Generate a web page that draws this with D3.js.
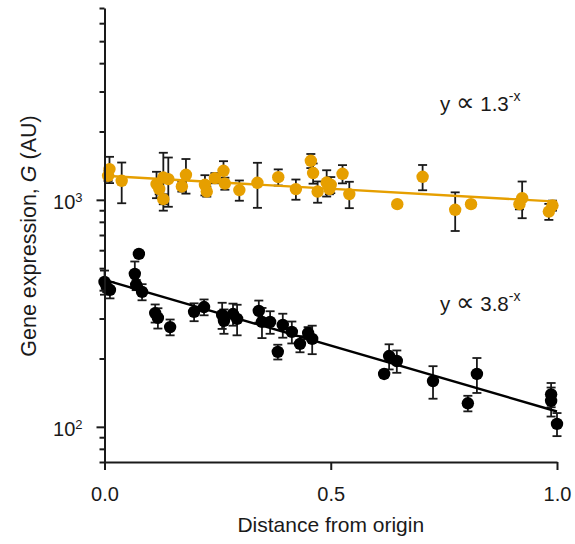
<!DOCTYPE html>
<html>
<head>
<meta charset="utf-8">
<script src="https://cdn.jsdelivr.net/npm/d3@7"></script>
<style>
  body { margin: 0; background: #fff; }
  svg text { font-family: "Liberation Sans", Arial, sans-serif; fill: #1a1a1a; }
</style>
</head>
<body>
<svg id="chart" width="575" height="544"></svg>
<script>
// black series (steep decay)
var blackX = [0.000, 0.005, 0.012, 0.076, 0.067, 0.070, 0.083, 0.112, 0.118, 0.145, 0.198, 0.220,
  0.260, 0.264, 0.284, 0.293, 0.341, 0.348, 0.366, 0.383, 0.394, 0.414, 0.432, 0.450, 0.459,
  0.618, 0.629, 0.646, 0.726, 0.803, 0.823, 0.987, 0.987, 1.000];
var blackY = [435, 413, 401, 578, 472, 422, 393, 317, 302, 275, 321, 337,
  311, 293, 314, 299, 324, 290, 290, 214, 281, 262, 232, 259, 244,
  171, 205, 195, 159, 127, 171, 139, 130, 103];
var blackErr = [53, 21, 33, 18, 63, 22, 32, 29, 31, 22, 29, 27,
  41, 36, 35, 46, 36, 44, 33, 16, 34, 29, 19, 16, 35,
  5, 26, 22, 26, 10, 30, 17, 19, 12];

// orange series (shallow decay)
var orangeX = [0.011, 0.008, 0.038, 0.115, 0.121, 0.130, 0.130, 0.141, 0.171, 0.180, 0.222, 0.226,
  0.244, 0.263, 0.266, 0.298, 0.338, 0.384, 0.423, 0.456, 0.461, 0.471, 0.491, 0.497, 0.500,
  0.526, 0.541, 0.647, 0.703, 0.775, 0.810, 0.917, 0.923, 0.982, 0.990];
var orangeY = [1366, 1276, 1213, 1173, 1115, 1254, 1007, 1234, 1145, 1289, 1165, 1088,
  1247, 1343, 1180, 1104, 1189, 1259, 1115, 1486, 1312, 1088, 1192, 1115, 1165,
  1302, 1060, 957, 1263, 904, 957, 957, 1017, 888, 944];
var orangeErr = [181, 65, 247, 156, 57, 358, 51, 302, 58, 224, 119, 55,
  64, 137, 72, 113, 267, 103, 114, 106, 134, 117, 158, 57, 95,
  120, 141, 20, 161, 175, 29, 49, 187, 72, 48];

// exponential fits y = a * base^-x
var fitA = [1276, 444];
var fitBase = [1.3, 3.8];
var fitLabels = ["1.3", "3.8"];

var xTicks = [0, 0.5, 1];
var xTickLabels = ["0.0", "0.5", "1.0"];
var yMajor = [100, 1000];
var yMajorExp = ["2", "3"];
var yMinor = [70, 80, 90, 200, 300, 400, 500, 600, 700, 800, 900, 2000, 3000, 4000, 5000, 6000, 7000];

var orange = "#e69f00";
var ink = "#1a1a1a";

var svg = d3.select("#chart");

var x = d3.scaleLinear().domain([0, 1]).range([104.5, 557]);
var y = d3.scaleLog().domain([70, 7000]).range([462, 8]);

var series = [
  { xs: orangeX, ys: orangeY, err: orangeErr, color: orange },
  { xs: blackX, ys: blackY, err: blackErr, color: "#000" }
];

// error bars, then dots
series.forEach(function(s) {
  var pts = s.xs.map(function(d, i) { return { x: d, y: s.ys[i], e: s.err[i] }; });
  var g = svg.append("g");
  var bars = g.selectAll("g.eb").data(pts).enter().append("g")
      .attr("stroke", ink)
      .attr("stroke-width", 1.8);
  bars.append("line")
      .attr("x1", function(d) { return x(d.x); })
      .attr("x2", function(d) { return x(d.x); })
      .attr("y1", function(d) { return y(d.y - d.e); })
      .attr("y2", function(d) { return y(d.y + d.e); });
  [-1, 1].forEach(function(sign) {
    bars.append("line")
        .attr("x1", function(d) { return x(d.x) - 4.5; })
        .attr("x2", function(d) { return x(d.x) + 4.5; })
        .attr("y1", function(d) { return y(d.y + sign * d.e); })
        .attr("y2", function(d) { return y(d.y + sign * d.e); });
  });
  g.selectAll("circle").data(pts).enter().append("circle")
      .attr("cx", function(d) { return x(d.x); })
      .attr("cy", function(d) { return y(d.y); })
      .attr("r", 6.2)
      .style("fill", s.color);
});

// fit lines
[orange, "#000"].forEach(function(c, i) {
  svg.append("line")
      .attr("x1", x(0))
      .attr("x2", x(1))
      .attr("y1", y(fitA[i]))
      .attr("y2", y(fitA[i] / fitBase[i]))
      .attr("stroke", c)
      .attr("stroke-width", 2.4);
});

// x axis
var xAxis = svg.append("g")
    .attr("transform", "translate(0,462)")
    .call(d3.axisBottom(x).tickValues(xTicks)
      .tickFormat(function(d, i) { return xTickLabels[i]; })
      .tickSize(8).tickPadding(17).tickSizeOuter(0));

// y axis: minor ticks then major ticks
var yMinorAxis = svg.append("g")
    .attr("transform", "translate(104.5,0)")
    .call(d3.axisLeft(y).tickValues(yMinor).tickFormat("").tickSize(5).tickSizeOuter(0));
yMinorAxis.select(".domain").remove();

var yAxis = svg.append("g")
    .attr("transform", "translate(104.5,0)")
    .call(d3.axisLeft(y).tickValues(yMajor).tickSize(8).tickPadding(14).tickSizeOuter(0));

yAxis.selectAll(".tick text").each(function(d, i) {
  var t = d3.select(this).text("").attr("dy", "0.42em");
  t.append("tspan").text("10");
  t.append("tspan").attr("dy", "-0.5em").style("font-size", "13px").text(yMajorExp[i]);
});

svg.selectAll(".domain, .tick line")
    .attr("stroke", ink)
    .attr("stroke-width", 2);
svg.selectAll(".tick text")
    .style("font-size", "20px")
    .style("font-family", '"Liberation Sans", Arial, sans-serif')
    .attr("fill", ink);

// axis titles
svg.append("text")
    .attr("x", x(0.5))
    .attr("y", 532)
    .attr("text-anchor", "middle")
    .style("font-size", "21px")
    .text("Distance from origin");

var yTitle = svg.append("text")
    .attr("transform", "translate(36,236) rotate(-90)")
    .attr("text-anchor", "middle")
    .style("font-size", "21.5px");
yTitle.append("tspan").text("Gene expression, ");
yTitle.append("tspan").style("font-style", "italic").text("G");
yTitle.append("tspan").text(" (AU)");

// fit annotations
[111, 311].forEach(function(by, i) {
  var t = svg.append("text")
      .attr("x", 440)
      .attr("y", by)
      .style("font-size", "20.5px");
  t.append("tspan").text("y ");
  t.append("tspan").style("font-family", '"DejaVu Sans", sans-serif').style("font-size", "26px").text("\u221d");
  t.append("tspan").text(" " + fitLabels[i]);
  t.append("tspan").attr("dy", -10).style("font-size", "14px").text("-x");
});
</script>
</body>
</html>
